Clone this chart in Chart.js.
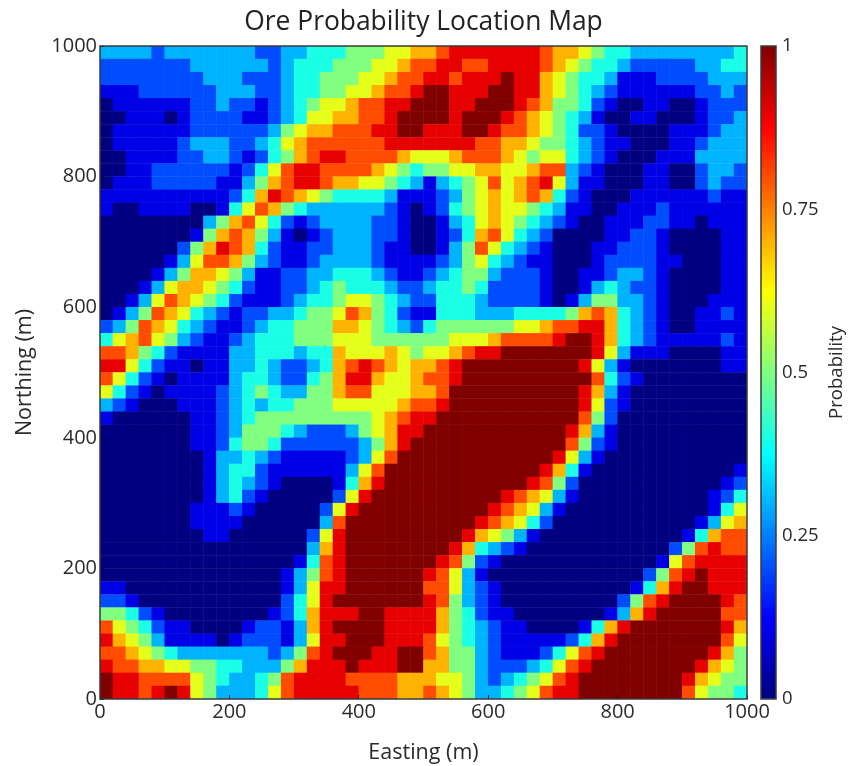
<!DOCTYPE html>
<html lang="en">
<head>
  <meta charset="UTF-8" />
  <title>Ore Probability Location Map</title>
  <script src="https://cdn.jsdelivr.net/npm/chart.js@4"></script>
  <style>
    html, body { margin: 0; background: #fff; }
    #wrap { position: relative; width: 861px; height: 766px; }
    canvas { position: absolute; top: 0; }
    #map { left: 0; }
    #bar { left: 750px; }
  </style>
</head>
<body>
  <div id="wrap">
    <canvas id="map" width="861" height="766"></canvas>
    <canvas id="bar" width="111" height="766"></canvas>
  </div>

  <script>
    // probability, one row per 20 m of northing, top row first
    // each char is tenths of probability, a = 1.0
    const probabilityRows = [
      "33332 33333 33223 34445 55667 78999 99998 77654 43333 33334",
      "22222 22333 33323 44455 56678 89988 99998 76544 32222 23344",
      "22222 22233 32223 44555 66788 99899 9a997 65443 11122 22333",
      "11122 22223 33223 44556 67889 aa999 aa997 65432 11111 12232",
      "01111 11223 22123 45667 8899a aa99a aa987 55421 00110 01222",
      "00111 01222 21123 46677 889aa aa9aa a9876 54310 01100 01223",
      "01111 11222 22235 67788 899aa 999aa 98876 54221 00001 11233",
      "01111 12333 22346 78888 88999 99998 87765 54321 10001 12333",
      "00111 12233 21245 78998 88876 66788 87656 64321 00011 13333",
      "00112 22222 12468 99888 87654 55667 76678 83210 00110 02332",
      "01112 22221 13578 99877 66543 13456 86789 63110 00110 02322",
      "11111 11111 24798 76544 44311 12356 76787 42100 01111 11211",
      "10011 11001 46875 43333 33210 12456 76654 31100 11121 11111",
      "00000 00035 78642 12333 32210 01346 76543 21001 11221 10111",
      "00000 00157 87531 01233 32210 01247 86432 00001 12210 00011",
      "00000 02579 87421 12233 32110 01358 64321 00011 22210 00011",
      "00000 13688 75321 12333 32111 12356 43211 00012 22211 00011",
      "00001 35776 53112 23344 43211 23455 32221 00112 33210 00011",
      "00013 67765 42112 23454 44322 34454 22221 00134 32210 00011",
      "00136 87654 21112 34456 65432 24443 22221 01355 33210 00111",
      "01358 76432 12233 45568 75421 14443 33444 45787 43210 01121",
      "23587 64321 12344 55577 65432 45555 55667 88997 43210 01111",
      "46786 53211 23444 55566 65555 55666 78888 9aa97 43211 11121",
      "88754 21111 33444 34476 66765 66789 9aaaa aaa96 31110 00011",
      "99642 11011 33432 23478 98767 789aa aaaaa aa963 10000 00011",
      "86421 01111 34432 24579 97667 889aa aaaaa aaa84 21000 00000",
      "64210 11112 34543 35578 86667 78aaa aaaaa aa973 10000 00000",
      "32100 01112 34344 55566 66678 89aaa aaaaa aa962 10000 00000",
      "10000 00112 34555 55555 56789 9aaaa aaaaa aa852 00000 00000",
      "00000 00112 35554 32223 56799 aaaaa aaaaa a9731 00000 00000",
      "00000 00112 45542 22222 3579a aaaaa aaaaa a8521 00000 00000",
      "00000 00013 34321 11112 368aa aaaaa aaaaa 96310 00000 00000",
      "00000 00013 44211 11113 68aaa aaaaa aaaa9 74100 00000 00001",
      "00000 00013 43210 00014 79aaa aaaaa aaa98 52000 00000 00012",
      "00000 00013 42100 00026 9aaaa aaaaa a9876 31000 00000 00124",
      "00000 00111 21000 00269 aaaaa aaaaa 98763 10000 00000 00146",
      "00000 00111 10000 0038a aaaaa aaaa9 87642 00000 00000 01367",
      "00000 00011 00000 0269a aaaaa aaa97 65310 00000 00000 14788",
      "00000 00000 00000 0379a aaaaa aa974 32100 00000 00002 58988",
      "00000 00000 00000 1489a aaaaa a9852 10000 00000 00016 89999",
      "00000 00000 00001 3589a aaaaa 98631 00000 00000 00258 9a999",
      "11000 00000 00001 3699a aaaaa 88632 10000 00000 01479 aa999",
      "22100 00000 00002 469aa aaaaa 98532 10000 00000 2589a aaa98",
      "55421 00000 00012 47999 aa999 97542 11000 00001 379aa aaa88",
      "86542 11000 01221 379aa aa999 97543 21100 00147 9aaaa aaa97",
      "97653 11110 12221 3699a aa999 86543 21111 12479 aaaaa aaa86",
      "88765 43333 33323 589aa a99aa 87553 21112 4689a aaaaa aa975",
      "98877 66554 43335 7999a 999aa 77553 22234 689aa aaaaa a9765",
      "a9988 88654 33458 99998 88877 76653 23456 89aaa aaaaa 97655",
      "a9989 a9653 33468 99999 88877 87653 34568 99aaa aaaaa 86554"
    ];
    const eastingTicks = [0, 200, 400, 600, 800, 1000];
    const northingTicks = [0, 200, 400, 600, 800, 1000];
    const probabilityTicks = [0, 0.25, 0.5, 0.75, 1];
    const jetStops = [0, 0.125, 0.375, 0.625, 0.875, 1];
    const jetColors = [[0, 0, 128], [0, 0, 255], [0, 255, 255], [255, 255, 0], [255, 0, 0], [128, 0, 0]];

    const cellSize = 20;
    const fontFamily = "'Open Sans', sans-serif";
    const textColor = "#2b2b2b";
    const frameColor = "#3a3a3a";

    function jet(v) {
      let i = 0;
      while (i < jetStops.length - 2 && v > jetStops[i + 1]) i++;
      const t = (v - jetStops[i]) / (jetStops[i + 1] - jetStops[i]);
      const c = jetColors[i].map((a, k) => Math.round(a + (jetColors[i + 1][k] - a) * t));
      return `rgb(${c[0]},${c[1]},${c[2]})`;
    }

    const cells = [];
    probabilityRows.forEach((row, r) => {
      row.replace(/ /g, "").split("").forEach((ch, c) => {
        cells.push({
          x: c * cellSize + cellSize / 2,
          y: 1000 - r * cellSize - cellSize / 2,
          p: parseInt(ch, 36) / 10
        });
      });
    });

    const tickFont = { family: fontFamily, size: 20 };
    const titleFont = { family: fontFamily, size: 21.5 };

    // box around the plot and the colour bar
    const frame = {
      id: "frame",
      afterDraw(chart) {
        const { ctx, chartArea: a } = chart;
        ctx.save();
        ctx.strokeStyle = frameColor;
        ctx.lineWidth = 1.5;
        ctx.strokeRect(a.left, a.top, a.right - a.left, a.bottom - a.top);
        ctx.restore();
      }
    };

    new Chart(document.getElementById("map"), {
      type: "scatter",
      data: {
        datasets: [{
          data: cells,
          pointStyle: "rect",
          borderWidth: 0,
          pointBorderWidth: 0,
          backgroundColor: ctx => jet(ctx.raw.p),
          pointRadius: ctx => {
            const s = ctx.chart.scales;
            const w = Math.abs(s.x.getPixelForValue(cellSize) - s.x.getPixelForValue(0));
            const h = Math.abs(s.y.getPixelForValue(cellSize) - s.y.getPixelForValue(0));
            return (Math.max(w, h) + 0.4) / Math.SQRT2;
          }
        }]
      },
      plugins: [frame],
      options: {
        responsive: false,
        animation: false,
        events: [],
        layout: { padding: { left: 0, top: 0, right: 114, bottom: 0 } },
        plugins: {
          legend: { display: false },
          tooltip: { enabled: false },
          title: {
            display: true,
            text: "Ore Probability Location Map",
            color: "#222",
            fullSize: false,
            font: { family: fontFamily, size: 26.4, weight: "normal", lineHeight: 1 },
            padding: { top: 9, bottom: 10.6 }
          }
        },
        scales: {
          x: {
            type: "linear", position: "bottom", min: 0, max: 1000,
            afterBuildTicks: s => { s.ticks = eastingTicks.map(v => ({ value: v })); },
            afterFit: s => { s.height = 67; },
            ticks: { color: textColor, font: tickFont, padding: 5, maxRotation: 0, callback: v => String(v) },
            grid: { drawOnChartArea: false, tickLength: -4, color: "#111", z: 1 },
            border: { display: false },
            title: { display: true, text: "Easting (m)", color: textColor, font: titleFont, padding: { top: 0, bottom: 0 } }
          },
          y: {
            type: "linear", position: "left", min: 0, max: 1000,
            afterBuildTicks: s => { s.ticks = northingTicks.map(v => ({ value: v })); },
            afterFit: s => { s.width = 100; },
            ticks: { color: textColor, font: tickFont, padding: 7, callback: v => String(v) },
            grid: { drawOnChartArea: false, tickLength: -4, color: "#111", z: 1 },
            border: { display: false },
            title: { display: true, text: "Northing (m)", color: textColor, font: titleFont, padding: { top: 12, bottom: 0 } }
          }
        }
      }
    });

    // colour bar is its own small chart so it gets its own value axis
    const probabilityLabel = {
      id: "probabilityLabel",
      afterDraw(chart) {
        const { ctx, chartArea } = chart;
        ctx.save();
        ctx.translate(87, (chartArea.top + chartArea.bottom) / 2);
        ctx.rotate(-Math.PI / 2);
        ctx.textAlign = "center";
        ctx.textBaseline = "middle";
        ctx.fillStyle = textColor;
        ctx.font = `18.6px ${fontFamily}`;
        ctx.fillText("Probability", 0, 0);
        ctx.restore();
      }
    };

    new Chart(document.getElementById("bar"), {
      type: "bar",
      data: {
        labels: ["Probability"],
        datasets: [{
          data: [[0, 1]],
          barPercentage: 1,
          categoryPercentage: 1,
          backgroundColor: ctx => {
            const area = ctx.chart.chartArea;
            if (!area) return jet(0.5);
            const g = ctx.chart.ctx.createLinearGradient(0, area.bottom, 0, area.top);
            jetStops.forEach(s => g.addColorStop(s, jet(s)));
            return g;
          }
        }]
      },
      plugins: [probabilityLabel, frame],
      options: {
        responsive: false,
        animation: false,
        events: [],
        layout: { padding: { left: 11, top: 46, right: 0, bottom: 67 } },
        plugins: { legend: { display: false }, tooltip: { enabled: false } },
        scales: {
          x: {
            ticks: { display: false },
            grid: { display: false, drawTicks: false },
            border: { display: false }
          },
          y: {
            position: "right", min: 0, max: 1,
            afterBuildTicks: s => { s.ticks = probabilityTicks.map(v => ({ value: v })); },
            afterFit: s => { s.width = 85; },
            ticks: {
              color: textColor,
              font: { family: fontFamily, size: 18.5 },
              padding: 6,
              crossAlign: "near",
              callback: v => String(v)
            },
            grid: { drawOnChartArea: false, drawTicks: false },
            border: { display: false }
          }
        }
      }
    });
  </script>
</body>
</html>
